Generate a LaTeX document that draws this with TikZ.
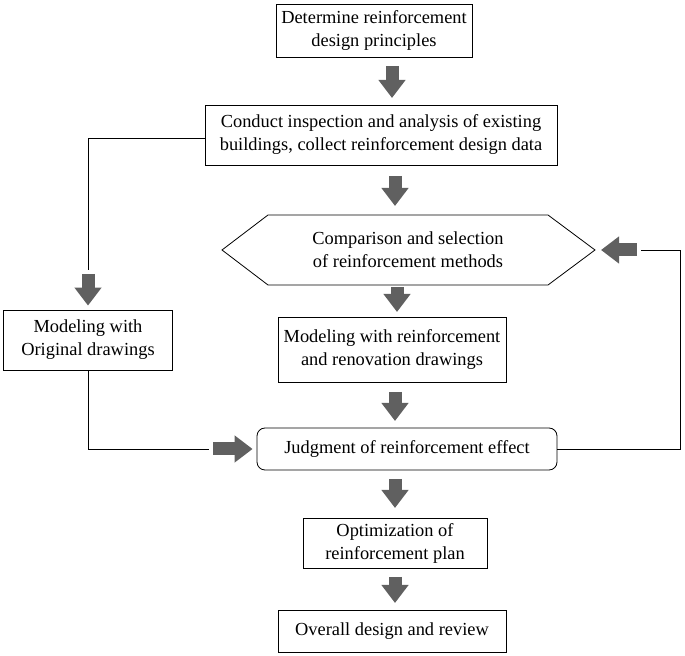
\documentclass[tikz,border=0pt]{standalone}
\usepackage{fontspec}
\setmainfont{Liberation Serif}
\usetikzlibrary{arrows.meta}
\tikzset{
  box/.style={draw,thin,align=center,inner sep=0pt,font=\fontsize{9.2}{11.5}\selectfont},
  fat/.style={draw=gray!75!black,line width=6.5pt,-{Triangle[length=9pt,width=13pt]},shorten >=2pt,shorten <=2pt},
  wire/.style={draw,thin}
}
\begin{document}
\begin{tikzpicture}[x=0.5pt,y=-0.5pt]
  \useasboundingbox (0,0) rectangle (685,656);
  \node[box,minimum width=98pt,minimum height=26.5pt] (principles) at (374,31) {Determine reinforcement\\design principles};
  \node[box,minimum width=176pt,minimum height=30pt] (inspect) at (381,135) {Conduct inspection and analysis of existing\\buildings, collect reinforcement design data};
  \draw[thin] (222,250) -- (268,215) -- (548,215) -- (595,250) -- (548,285) -- (268,285) -- cycle;
  \node[font=\fontsize{9.2}{11.5}\selectfont,align=center,minimum width=186pt,minimum height=35pt] (compare) at (408,250) {Comparison and selection\\of reinforcement methods};
  \node[box,minimum width=84.5pt,minimum height=30pt] (original) at (88,340) {Modeling with\\Original drawings};
  \node[box,minimum width=114pt,minimum height=32.5pt] (renovate) at (392,350) {Modeling with reinforcement\\and renovation drawings};
  \node[box,rounded corners=4pt,minimum width=150pt,minimum height=21pt] (judge) at (407,449) {Judgment of reinforcement effect};
  \node[box,minimum width=92pt,minimum height=25pt] (optimize) at (395,543) {Optimization of\\reinforcement plan};
  \node[box,minimum width=114pt,minimum height=21pt] (overall) at (392,631) {Overall design and review};
  % bend points
  \coordinate (leftTop) at (88,270);
  \coordinate (leftBot) at (209,449);
  \coordinate (rightTop) at (641,250);
  % thin wires
  \draw[wire] (inspect.west |- 0,138) -- (88,138) -- (leftTop);
  \draw[wire] (original) -- (88,449) -- (leftBot);
  \draw[wire] (judge) -- (680,449) -- (680,250) -- (rightTop);
  % fat arrows
  \draw[fat] (392,62) -- (392,102);
  \draw[fat] (395,172) -- (395,210);
  \draw[fat] (397,283) -- (397,316);
  \draw[fat] (395,388) -- (395,425);
  \draw[fat] (395,475) -- (395,512);
  \draw[fat] (395,573) -- (395,607);
  \draw[fat] (leftTop) -- (original);
  \draw[fat] (leftBot) -- (judge);
  \draw[fat] (rightTop) -- (597,250);
\end{tikzpicture}
\end{document}
